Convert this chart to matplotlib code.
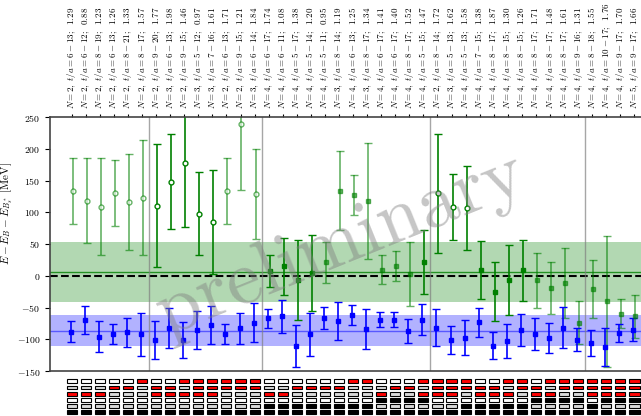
import numpy as np
import matplotlib
matplotlib.use("Agg")
import matplotlib.pyplot as plt
from matplotlib.patches import Rectangle

plt.rcParams['font.family'] = 'serif'
plt.rcParams['font.serif'] = ['cmr10']
plt.rcParams['mathtext.fontset'] = 'cm'
plt.rcParams['axes.formatter.use_mathtext'] = True

# fit labels (top axis)
n_states = [2, 2, 2, 2, 2, 2, 2, 3, 2, 3, 3, 2, 2, 3, 4, 4, 4, 4, 4, 3, 4,
            3, 4, 4, 4, 4, 2, 3, 4, 4, 4, 4, 4, 4, 4, 4, 4, 4, 4, 4, 5]
t_min = [6, 6, 8, 6, 8, 8, 9, 6, 9, 5, 7, 6, 9, 6, 6, 6, 5, 5, 5, 8, 6,
         8, 6, 6, 8, 5, 8, 5, 5, 7, 8, 8, 8, 8, 8, 8, 9, 8, 10, 9, 9]
t_max = [13, 12, 19, 13, 21, 17, 20, 13, 15, 12, 16, 13, 15, 14, 17, 11, 17, 14, 11, 14, 13,
         17, 17, 17, 17, 15, 14, 13, 13, 15, 17, 15, 15, 17, 17, 17, 16, 18, 17, 17, 17]
chi2 = ["1.29", "0.88", "1.23", "1.26", "1.33", "1.57", "1.77", "1.98", "1.46", "0.97",
        "1.61", "1.71", "1.21", "1.84", "1.74", "1.08", "1.38", "1.20", "0.95", "1.19",
        "1.25", "1.34", "1.41", "1.40", "1.52", "1.47", "1.72", "1.62", "1.58", "1.38",
        "1.87", "1.30", "1.26", "1.71", "1.48", "1.61", "1.31", "1.55", "1.76", "1.70", "1.66"]

# green series (upper state)
green_val = [134, 118, 109, 130, 116, 123, 110, 148, 178, 98, 84, 134, 239, 129,
             7, 15, -7, 4, 21, 134, 127, 118, 9.5, 15, 3, 22, 130, 109, 107,
             9, -25, -7, 9, -7, -19, -12, -74, -21, -40, -60, -64]
green_err = [52, 67, 76, 52, 75, 91, 97, 75, 101, 65, 82, 52, 104, 71,
             25, 45, 63, 60, 32, 62, 32, 91, 23, 23.5, 50, 50, 94, 52, 66,
             46, 46, 55, 48, 43, 41, 55, 34, 46, 103, 23, 34]
green_open = [1]*14 + [0]*12 + [1]*3 + [0]*12
green_light = [1]*6 + [0]*5 + [1]*3 + [0]*4 + [1]*7 + [0]*8 + [1]*8

# blue series (lower state)
blue_val = [-88, -69, -96, -92, -89, -92, -101, -82, -101, -85, -78, -92, -83, -74,
            -67, -64, -111, -92, -67, -71, -61.5, -84, -69, -69, -87, -69, -81.5,
            -101, -97.5, -73, -110, -103, -85, -92, -98, -81.5, -101, -106, -111.5, -90.5, -85]
blue_err = [16, 22, 24.5, 16, 23, 34, 30, 31.6, 28, 30, 30, 16, 25, 31, 15, 26, 33,
            34, 17.6, 30, 16, 31.6, 12.4, 12.4, 19, 25, 28.7, 22.5, 28, 23, 21, 27,
            25, 24.7, 23.5, 32, 18, 21, 30, 14, 18]

# averages (value, half-width)
green_band = (6, 47)
blue_band = (-86.5, 24)
separators = [5.5, 13.5, 25.5, 36.5]

# operator usage grid: 0 white, 1 grey, 2 red, 3 black
usage = [
    [0, 0, 0, 0, 0, 2, 0, 0, 2, 2, 2, 2, 2, 2, 0, 0, 0, 0, 0, 0, 2, 2, 0, 0, 0, 2, 2, 2, 2, 0, 0, 2, 2, 0, 2, 2, 2, 2, 2, 2, 2],
    [1, 1, 1, 2, 2, 1, 2, 2, 1, 2, 2, 2, 2, 2, 1, 1, 2, 2, 2, 2, 1, 1, 1, 2, 2, 1, 2, 2, 2, 2, 2, 1, 2, 2, 1, 2, 2, 2, 2, 2, 2],
    [2, 2, 2, 1, 1, 1, 2, 2, 2, 2, 2, 1, 1, 1, 2, 2, 1, 1, 1, 1, 1, 1, 2, 1, 1, 2, 2, 2, 1, 2, 2, 2, 1, 2, 2, 1, 1, 2, 2, 2, 2],
    [0]*22 + [3, 3, 3, 3] + [0]*7 + [3, 3, 3, 3, 0, 3, 3, 3],
    [1]*14 + [3]*8 + [1]*6 + [3]*5 + [1]*4 + [3, 1, 1, 1],
    [3]*41,
]
face = {0: 'white', 1: '#d9d9d9', 2: 'red', 3: 'black'}

x = np.arange(len(green_val))

fig = plt.figure(figsize=(6.41, 4.16), dpi=100)
ax = fig.add_axes([50/641, 45/416, 595/641, 254/416])

ax.axhspan(green_band[0]-green_band[1], green_band[0]+green_band[1], color='green', alpha=0.3, lw=0)
ax.axhspan(blue_band[0]-blue_band[1], blue_band[0]+blue_band[1], color='blue', alpha=0.3, lw=0)
ax.axhline(green_band[0], color='green', lw=1, alpha=0.8)
ax.axhline(blue_band[0], color='blue', lw=1, alpha=0.5)
ax.axhline(0, color='black', ls='--', lw=1.5)
for s in separators:
    ax.axvline(s, color='gray', lw=1, alpha=0.7)

for i in x:
    a = 0.6 if green_light[i] else 1.0
    if green_open[i]:
        ax.errorbar(i + 0.07, green_val[i], yerr=green_err[i], fmt='o', color='green',
                    mfc='white', ms=3.5, mew=1, capsize=3, elinewidth=1.2, alpha=a)
    else:
        ax.errorbar(i + 0.07, green_val[i], yerr=green_err[i], fmt='s', color='green',
                    ms=3.5, capsize=3, elinewidth=1.2, alpha=a)
ax.errorbar(x - 0.07, blue_val, yerr=blue_err, fmt='s', color='blue', ms=3.5,
            capsize=3, elinewidth=1.2)

ax.text(0.49, 0.5, 'preliminary', transform=ax.transAxes, fontsize=56, color='gray',
        alpha=0.45, rotation=22, ha='center', va='center')

ax.set_xlim(-1.54, 40.75)
ax.set_ylim(-150, 250)
ax.set_yticks([-150, -100, -50, 0, 50, 100, 150, 200, 250])
ax.set_ylabel(r'$E - E_B - E_{B_s^*}$ [MeV]', fontsize=8)
ax.yaxis.set_label_coords(-0.058, 0.62)
ax.tick_params(axis='y', labelsize=7)
ax.set_xticks(x)
ax.set_xticklabels([r'$N=%d,\ t/a=%d-%d;\ \ %s$' % (n, a, b, c)
                    for n, a, b, c in zip(n_states, t_min, t_max, chi2)],
                   rotation=90, fontsize=6.5)
ax.xaxis.tick_top()
ax.tick_params(axis='x', length=2)
for sp in ax.spines.values():
    sp.set_color('#444444')
    sp.set_linewidth(1.2)

# operator grid below
ax2 = fig.add_axes([50/641, 0, 595/641, 40/416])
for r, row in enumerate(usage):
    for i, v in enumerate(row):
        ax2.add_patch(Rectangle((i - 0.36, r - 0.3), 0.72, 0.6, facecolor=face[v],
                                edgecolor='black', lw=0.8))
ax2.set_xlim(ax.get_xlim())
ax2.set_ylim(5.6, -0.85)
ax2.axis('off')

fig.savefig('out.png', dpi=100)
